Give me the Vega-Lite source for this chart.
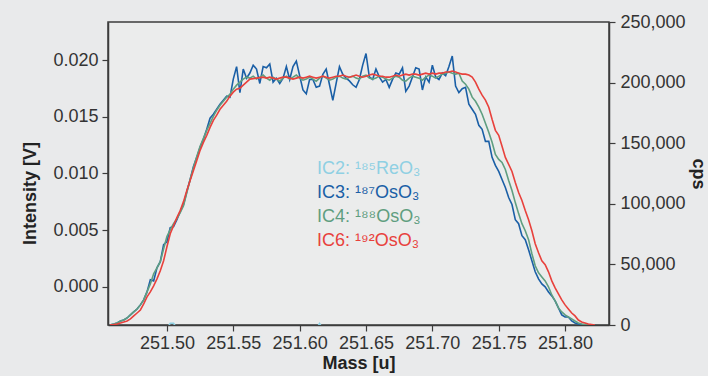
{
  "$schema": "https://vega.github.io/schema/vega-lite/v6.json",
  "width": 501,
  "height": 303,
  "autosize": {"type": "none"},
  "padding": {"left": 108, "top": 22, "right": 99, "bottom": 51},
  "background": "#e9eaeb",
  "config": {
    "view": {"stroke": "#3c3c3c", "strokeWidth": 1.5, "fill": "#ebecec"},
    "axis": {
      "labelFont": "Liberation Sans",
      "labelFontSize": 18,
      "labelColor": "#333333",
      "titleFont": "Liberation Sans",
      "titleFontSize": 18,
      "titleFontWeight": "bold",
      "titleColor": "#222222",
      "tickColor": "#3c3c3c",
      "tickSize": 6,
      "tickWidth": 1.2,
      "domainColor": "#3c3c3c",
      "domainWidth": 1.5,
      "grid": false
    }
  },
  "data": {
    "values": [
      {"m": 251.457, "IC2": -3000, "IC3": 0, "IC4": 0, "IC6": 0},
      {"m": 251.46, "IC2": -3000, "IC3": 800, "IC4": 800, "IC6": 400},
      {"m": 251.4625, "IC2": -3000, "IC3": 1700, "IC4": 1700, "IC6": 800},
      {"m": 251.465, "IC2": -3000, "IC3": 3300, "IC4": 3300, "IC6": 1700},
      {"m": 251.4675, "IC2": -3000, "IC3": 4100, "IC4": 4100, "IC6": 2500},
      {"m": 251.47, "IC2": -3000, "IC3": 5800, "IC4": 5800, "IC6": 3300},
      {"m": 251.4725, "IC2": -3000, "IC3": 8300, "IC4": 8300, "IC6": 5000},
      {"m": 251.475, "IC2": -3000, "IC3": 10800, "IC4": 10800, "IC6": 7500},
      {"m": 251.4775, "IC2": -3000, "IC3": 13200, "IC4": 13200, "IC6": 9900},
      {"m": 251.48, "IC2": -3000, "IC3": 16600, "IC4": 16600, "IC6": 12400},
      {"m": 251.4825, "IC2": -3000, "IC3": 20700, "IC4": 20700, "IC6": 17400},
      {"m": 251.485, "IC2": -3000, "IC3": 27300, "IC4": 27300, "IC6": 23200},
      {"m": 251.4875, "IC2": -3000, "IC3": 37300, "IC4": 33900, "IC6": 27300},
      {"m": 251.49, "IC2": -3000, "IC3": 36400, "IC4": 42200, "IC6": 32300},
      {"m": 251.4925, "IC2": -3000, "IC3": 47200, "IC4": 47200, "IC6": 38100},
      {"m": 251.495, "IC2": -3000, "IC3": 52200, "IC4": 52200, "IC6": 44700},
      {"m": 251.4975, "IC2": -3000, "IC3": 66200, "IC4": 62900, "IC6": 53000},
      {"m": 251.5, "IC2": -3000, "IC3": 68700, "IC4": 72900, "IC6": 64600},
      {"m": 251.5025, "IC2": 1500, "IC3": 80300, "IC4": 78700, "IC6": 75300},
      {"m": 251.505, "IC2": 1500, "IC3": 81100, "IC4": 83600, "IC6": 82000},
      {"m": 251.5075, "IC2": -3000, "IC3": 86900, "IC4": 87800, "IC6": 88600},
      {"m": 251.51, "IC2": -3000, "IC3": 93600, "IC4": 92700, "IC6": 94400},
      {"m": 251.5125, "IC2": -3000, "IC3": 99400, "IC4": 98500, "IC6": 101800},
      {"m": 251.515, "IC2": -3000, "IC3": 110100, "IC4": 109300, "IC6": 111000},
      {"m": 251.5175, "IC2": -3000, "IC3": 120100, "IC4": 120100, "IC6": 119200},
      {"m": 251.52, "IC2": -3000, "IC3": 130800, "IC4": 130000, "IC6": 127500},
      {"m": 251.5225, "IC2": -3000, "IC3": 138300, "IC4": 139100, "IC6": 135800},
      {"m": 251.525, "IC2": -3000, "IC3": 146600, "IC4": 147400, "IC6": 144100},
      {"m": 251.5275, "IC2": -3000, "IC3": 153200, "IC4": 154000, "IC6": 150700},
      {"m": 251.53, "IC2": -3000, "IC3": 161500, "IC4": 160600, "IC6": 156500},
      {"m": 251.5325, "IC2": -3000, "IC3": 170600, "IC4": 166400, "IC6": 163100},
      {"m": 251.535, "IC2": -3000, "IC3": 173900, "IC4": 172200, "IC6": 168900},
      {"m": 251.5375, "IC2": -3000, "IC3": 178000, "IC4": 177200, "IC6": 173100},
      {"m": 251.54, "IC2": -3000, "IC3": 182200, "IC4": 181300, "IC6": 178000},
      {"m": 251.5425, "IC2": -3000, "IC3": 185500, "IC4": 184600, "IC6": 181300},
      {"m": 251.545, "IC2": -3000, "IC3": 188800, "IC4": 188000, "IC6": 184600},
      {"m": 251.5475, "IC2": -3000, "IC3": 188000, "IC4": 190400, "IC6": 188800},
      {"m": 251.55, "IC2": -3000, "IC3": 202900, "IC4": 194600, "IC6": 192100},
      {"m": 251.5525, "IC2": -3000, "IC3": 213200, "IC4": 197900, "IC6": 194600},
      {"m": 251.555, "IC2": -3000, "IC3": 191800, "IC4": 200400, "IC6": 195400},
      {"m": 251.5575, "IC2": -3000, "IC3": 211200, "IC4": 202900, "IC6": 197900},
      {"m": 251.56, "IC2": -3000, "IC3": 203600, "IC4": 204500, "IC6": 200400},
      {"m": 251.5625, "IC2": -3000, "IC3": 207900, "IC4": 203700, "IC6": 202900},
      {"m": 251.565, "IC2": -3000, "IC3": 214400, "IC4": 205300, "IC6": 203300},
      {"m": 251.5675, "IC2": -3000, "IC3": 211200, "IC4": 202900, "IC6": 203700},
      {"m": 251.57, "IC2": -3000, "IC3": 199300, "IC4": 204500, "IC6": 204100},
      {"m": 251.5725, "IC2": -3000, "IC3": 213200, "IC4": 206200, "IC6": 204500},
      {"m": 251.575, "IC2": -3000, "IC3": 212200, "IC4": 203700, "IC6": 203700},
      {"m": 251.5775, "IC2": -3000, "IC3": 215400, "IC4": 202000, "IC6": 204500},
      {"m": 251.58, "IC2": -3000, "IC3": 200400, "IC4": 204500, "IC6": 203700},
      {"m": 251.5825, "IC2": -3000, "IC3": 203600, "IC4": 202900, "IC6": 202900},
      {"m": 251.585, "IC2": -3000, "IC3": 199300, "IC4": 201200, "IC6": 203700},
      {"m": 251.5875, "IC2": -3000, "IC3": 203600, "IC4": 203700, "IC6": 204500},
      {"m": 251.59, "IC2": -3000, "IC3": 213200, "IC4": 205300, "IC6": 204500},
      {"m": 251.5925, "IC2": -3000, "IC3": 202600, "IC4": 202900, "IC6": 203700},
      {"m": 251.595, "IC2": -3000, "IC3": 213200, "IC4": 204500, "IC6": 202900},
      {"m": 251.5975, "IC2": -3000, "IC3": 217700, "IC4": 206200, "IC6": 203700},
      {"m": 251.6, "IC2": -3000, "IC3": 205700, "IC4": 203700, "IC6": 204500},
      {"m": 251.6025, "IC2": -3000, "IC3": 193900, "IC4": 202000, "IC6": 203700},
      {"m": 251.605, "IC2": -3000, "IC3": 190700, "IC4": 202900, "IC6": 204500},
      {"m": 251.6075, "IC2": -3000, "IC3": 202600, "IC4": 204500, "IC6": 205300},
      {"m": 251.61, "IC2": -3000, "IC3": 202600, "IC4": 202900, "IC6": 204500},
      {"m": 251.6125, "IC2": -3000, "IC3": 196100, "IC4": 201200, "IC6": 203700},
      {"m": 251.615, "IC2": 1200, "IC3": 197100, "IC4": 203700, "IC6": 204500},
      {"m": 251.6175, "IC2": -3000, "IC3": 206900, "IC4": 205300, "IC6": 205300},
      {"m": 251.62, "IC2": -3000, "IC3": 211200, "IC4": 203700, "IC6": 204500},
      {"m": 251.6225, "IC2": -3000, "IC3": 198200, "IC4": 202000, "IC6": 203700},
      {"m": 251.625, "IC2": -3000, "IC3": 185300, "IC4": 202900, "IC6": 204500},
      {"m": 251.6275, "IC2": -3000, "IC3": 199300, "IC4": 204500, "IC6": 205300},
      {"m": 251.63, "IC2": -3000, "IC3": 213200, "IC4": 205300, "IC6": 205300},
      {"m": 251.6325, "IC2": -3000, "IC3": 206900, "IC4": 203700, "IC6": 206200},
      {"m": 251.635, "IC2": -3000, "IC3": 203600, "IC4": 202900, "IC6": 205300},
      {"m": 251.6375, "IC2": -3000, "IC3": 201400, "IC4": 204500, "IC6": 204500},
      {"m": 251.64, "IC2": -3000, "IC3": 198200, "IC4": 205300, "IC6": 205300},
      {"m": 251.6425, "IC2": -3000, "IC3": 196100, "IC4": 203700, "IC6": 206200},
      {"m": 251.645, "IC2": -3000, "IC3": 202600, "IC4": 202900, "IC6": 205300},
      {"m": 251.6475, "IC2": -3000, "IC3": 214400, "IC4": 205300, "IC6": 204500},
      {"m": 251.65, "IC2": -3000, "IC3": 224000, "IC4": 206200, "IC6": 205300},
      {"m": 251.6525, "IC2": -3000, "IC3": 204700, "IC4": 203700, "IC6": 206200},
      {"m": 251.655, "IC2": -3000, "IC3": 202600, "IC4": 202900, "IC6": 207000},
      {"m": 251.6575, "IC2": -3000, "IC3": 211200, "IC4": 203700, "IC6": 206200},
      {"m": 251.66, "IC2": -3000, "IC3": 204700, "IC4": 205300, "IC6": 205300},
      {"m": 251.6625, "IC2": -3000, "IC3": 200400, "IC4": 204500, "IC6": 205300},
      {"m": 251.665, "IC2": -3000, "IC3": 202600, "IC4": 202900, "IC6": 204500},
      {"m": 251.6675, "IC2": -3000, "IC3": 196100, "IC4": 202000, "IC6": 204500},
      {"m": 251.67, "IC2": -3000, "IC3": 202600, "IC4": 203700, "IC6": 205300},
      {"m": 251.6725, "IC2": -3000, "IC3": 207900, "IC4": 205300, "IC6": 206200},
      {"m": 251.675, "IC2": -3000, "IC3": 206900, "IC4": 204500, "IC6": 205300},
      {"m": 251.6775, "IC2": -3000, "IC3": 212200, "IC4": 202000, "IC6": 206200},
      {"m": 251.68, "IC2": -3000, "IC3": 192800, "IC4": 201200, "IC6": 207000},
      {"m": 251.6825, "IC2": -3000, "IC3": 197100, "IC4": 203700, "IC6": 206200},
      {"m": 251.685, "IC2": -3000, "IC3": 204700, "IC4": 205300, "IC6": 207000},
      {"m": 251.6875, "IC2": -3000, "IC3": 212200, "IC4": 204500, "IC6": 207000},
      {"m": 251.69, "IC2": -3000, "IC3": 211200, "IC4": 203700, "IC6": 206200},
      {"m": 251.6925, "IC2": -3000, "IC3": 193900, "IC4": 202000, "IC6": 207000},
      {"m": 251.695, "IC2": -3000, "IC3": 204700, "IC4": 204500, "IC6": 207800},
      {"m": 251.6975, "IC2": -3000, "IC3": 200400, "IC4": 206200, "IC6": 207000},
      {"m": 251.7, "IC2": -3000, "IC3": 214400, "IC4": 205300, "IC6": 207800},
      {"m": 251.7025, "IC2": -3000, "IC3": 204700, "IC4": 203700, "IC6": 207000},
      {"m": 251.705, "IC2": -3000, "IC3": 202600, "IC4": 205300, "IC6": 207800},
      {"m": 251.7075, "IC2": -3000, "IC3": 207900, "IC4": 207000, "IC6": 207800},
      {"m": 251.71, "IC2": -3000, "IC3": 205700, "IC4": 207800, "IC6": 208700},
      {"m": 251.7125, "IC2": -3000, "IC3": 213200, "IC4": 208700, "IC6": 208700},
      {"m": 251.715, "IC2": -3000, "IC3": 221900, "IC4": 207800, "IC6": 209500},
      {"m": 251.7175, "IC2": -3000, "IC3": 197100, "IC4": 207000, "IC6": 208700},
      {"m": 251.72, "IC2": -3000, "IC3": 191800, "IC4": 207800, "IC6": 207800},
      {"m": 251.7225, "IC2": -3000, "IC3": 195000, "IC4": 201200, "IC6": 207000},
      {"m": 251.725, "IC2": -3000, "IC3": 196100, "IC4": 198700, "IC6": 207000},
      {"m": 251.7275, "IC2": -3000, "IC3": 182200, "IC4": 194600, "IC6": 206200},
      {"m": 251.73, "IC2": -3000, "IC3": 178000, "IC4": 188000, "IC6": 204500},
      {"m": 251.7325, "IC2": -3000, "IC3": 173900, "IC4": 184600, "IC6": 200400},
      {"m": 251.735, "IC2": -3000, "IC3": 164800, "IC4": 179700, "IC6": 194600},
      {"m": 251.7375, "IC2": -3000, "IC3": 161500, "IC4": 173900, "IC6": 189600},
      {"m": 251.74, "IC2": -3000, "IC3": 151500, "IC4": 166400, "IC6": 185500},
      {"m": 251.7425, "IC2": -3000, "IC3": 151500, "IC4": 159000, "IC6": 179700},
      {"m": 251.745, "IC2": -3000, "IC3": 138300, "IC4": 150700, "IC6": 169700},
      {"m": 251.7475, "IC2": -3000, "IC3": 131700, "IC4": 140800, "IC6": 160600},
      {"m": 251.75, "IC2": -3000, "IC3": 126700, "IC4": 136600, "IC6": 156500},
      {"m": 251.7525, "IC2": -3000, "IC3": 120100, "IC4": 134100, "IC6": 147400},
      {"m": 251.755, "IC2": -3000, "IC3": 113400, "IC4": 128300, "IC6": 138300},
      {"m": 251.7575, "IC2": -3000, "IC3": 105200, "IC4": 119200, "IC6": 132500},
      {"m": 251.76, "IC2": -3000, "IC3": 99400, "IC4": 111000, "IC6": 126700},
      {"m": 251.7625, "IC2": -3000, "IC3": 86900, "IC4": 101000, "IC6": 117600},
      {"m": 251.765, "IC2": -3000, "IC3": 83600, "IC4": 91900, "IC6": 109300},
      {"m": 251.7675, "IC2": -3000, "IC3": 73700, "IC4": 83600, "IC6": 102700},
      {"m": 251.77, "IC2": -3000, "IC3": 70400, "IC4": 77800, "IC6": 94400},
      {"m": 251.7725, "IC2": -3000, "IC3": 62100, "IC4": 70400, "IC6": 86900},
      {"m": 251.775, "IC2": -3000, "IC3": 53000, "IC4": 58800, "IC6": 77800},
      {"m": 251.7775, "IC2": -3000, "IC3": 43900, "IC4": 48900, "IC6": 67100},
      {"m": 251.78, "IC2": -3000, "IC3": 38100, "IC4": 43100, "IC6": 59600},
      {"m": 251.7825, "IC2": -3000, "IC3": 33900, "IC4": 39700, "IC6": 53000},
      {"m": 251.785, "IC2": -3000, "IC3": 31500, "IC4": 36400, "IC6": 49700},
      {"m": 251.7875, "IC2": -3000, "IC3": 27300, "IC4": 31500, "IC6": 43900},
      {"m": 251.79, "IC2": -3000, "IC3": 24000, "IC4": 24800, "IC6": 36400},
      {"m": 251.7925, "IC2": -3000, "IC3": 19900, "IC4": 19900, "IC6": 30600},
      {"m": 251.795, "IC2": -3000, "IC3": 14100, "IC4": 14100, "IC6": 25700},
      {"m": 251.7975, "IC2": -3000, "IC3": 8300, "IC4": 10800, "IC6": 20700},
      {"m": 251.8, "IC2": -3000, "IC3": 6600, "IC4": 8300, "IC6": 16600},
      {"m": 251.8025, "IC2": -3000, "IC3": 6600, "IC4": 6600, "IC6": 13200},
      {"m": 251.805, "IC2": -3000, "IC3": 3300, "IC4": 5000, "IC6": 9900},
      {"m": 251.8075, "IC2": -3000, "IC3": 1700, "IC4": 3300, "IC6": 7500},
      {"m": 251.81, "IC2": -3000, "IC3": 800, "IC4": 1700, "IC6": 4100},
      {"m": 251.8125, "IC2": -3000, "IC3": 400, "IC4": 800, "IC6": 2500},
      {"m": 251.815, "IC2": -3000, "IC3": 0, "IC4": 400, "IC6": 1700},
      {"m": 251.8175, "IC2": -3000, "IC3": 0, "IC4": 0, "IC6": 800},
      {"m": 251.82, "IC2": -3000, "IC3": 0, "IC4": 0, "IC6": 400},
      {"m": 251.8225, "IC2": -3000, "IC3": 0, "IC4": 0, "IC6": 0}
    ]
  },
  "transform": [{"fold": ["IC2", "IC3", "IC4", "IC6"], "as": ["series", "cps"]}],
  "layer": [
    {
      "mark": {"type": "rule", "opacity": 0},
      "encoding": {
        "y": {
          "datum": 0,
          "type": "quantitative",
          "scale": {"domain": [-0.00335, 0.02335], "nice": false, "zero": false},
          "axis": {
            "orient": "left",
            "values": [0, 0.005, 0.01, 0.015, 0.02],
            "format": ".3f",
            "title": "Intensity [V]",
            "labelPadding": 4,
            "titlePadding": 13,
            "titleY": 171
          }
        }
      }
    },
    {
      "mark": {"type": "line", "strokeWidth": 1.6, "clip": true},
      "encoding": {
        "x": {
          "field": "m",
          "type": "quantitative",
          "scale": {"domain": [251.4556, 251.8331], "nice": false, "zero": false},
          "axis": {
            "values": [251.5, 251.55, 251.6, 251.65, 251.7, 251.75, 251.8],
            "format": ".2f",
            "title": "Mass [u]",
            "labelPadding": 3,
            "titlePadding": 2
          }
        },
        "y": {
          "field": "cps",
          "type": "quantitative",
          "scale": {"domain": [0, 250000], "nice": false},
          "axis": {
            "orient": "right",
            "values": [0, 50000, 100000, 150000, 200000, 250000],
            "format": ",.0f",
            "title": "cps",
            "labelPadding": 5,
            "titlePadding": 3
          }
        },
        "color": {
          "field": "series",
          "type": "nominal",
          "scale": {
            "domain": ["IC2", "IC3", "IC4", "IC6"],
            "range": ["#8fd0e3", "#1a5fa6", "#5f9e80", "#e8413c"]
          },
          "legend": {
            "orient": "none",
            "legendX": 187,
            "legendY": 138,
            "title": null,
            "labelFont": "Liberation Sans",
            "labelFontSize": 18,
            "symbolSize": 0,
            "symbolOpacity": 0,
            "symbolStrokeWidth": 0,
            "rowPadding": 6,
            "labelExpr": "datum.label == 'IC2' ? 'IC2: ¹⁸⁵ReO₃' : datum.label == 'IC3' ? 'IC3: ¹⁸⁷OsO₃' : datum.label == 'IC4' ? 'IC4: ¹⁸⁸OsO₃' : 'IC6: ¹⁹²OsO₃'",
            "encode": {"labels": {"update": {"fill": {"scale": "color", "field": "value"}}}}
          }
        }
      }
    }
  ],
  "resolve": {"scale": {"y": "independent"}}
}
